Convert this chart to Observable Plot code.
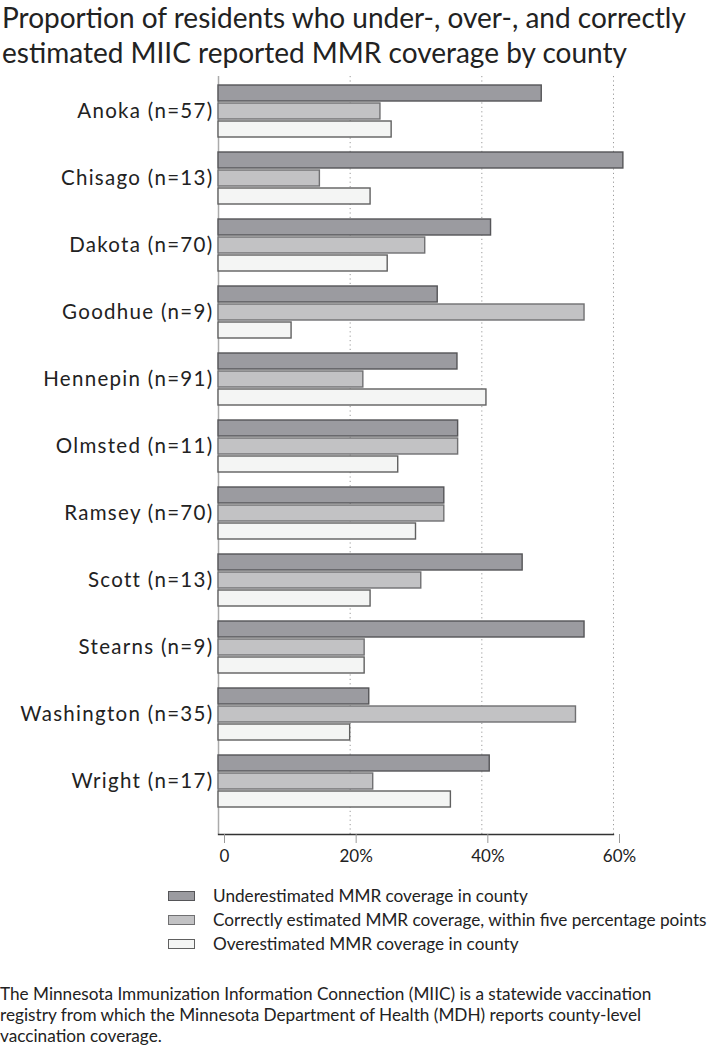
<!DOCTYPE html>
<html>
<head>
<meta charset="utf-8">
<script src="https://cdn.jsdelivr.net/npm/d3@7"></script>
<script src="https://cdn.jsdelivr.net/npm/@observablehq/plot@0.6"></script>
<style>
  html, body { margin: 0; padding: 0; background: #fff; }
  body { width: 709px; height: 1050px; position: relative; font-family: Lato, "Open Sans", sans-serif; color: #222; overflow: hidden; }
  #title { position: absolute; left: 2px; top: 0; font-size: 28px; line-height: 35px; white-space: nowrap; }
  #chart { position: absolute; left: 0; top: 70px; }
  #legend { position: absolute; left: 0; top: 884px; font-size: 17.2px; }
  .li { position: absolute; white-space: nowrap; height: 24px; line-height: 24px; }
  .sw { position: absolute; left: 168px; top: 7px; width: 25px; height: 8px; border: 1px solid #777; }
  .lt { position: absolute; left: 213px; top: 0; }
  #caption { position: absolute; left: 0; top: 983px; font-size: 17.2px; line-height: 21px; white-space: nowrap; }
  #chart svg g[aria-label="y-axis tick label"] text { letter-spacing: 1.3px; }
</style>
</head>
<body>
<div id="title">Proportion of residents who under-, over-, and correctly<br>estimated MIIC reported MMR coverage by county</div>
<div id="chart"></div>
<div id="legend"></div>
<div id="caption">The Minnesota Immunization Information Connection (MIIC) is a statewide vaccination<br>registry from which the Minnesota Department of Health (MDH) reports county-level<br>vaccination coverage.</div>
<script>
const counties = ["Anoka (n=57)", "Chisago (n=13)", "Dakota (n=70)", "Goodhue (n=9)", "Hennepin (n=91)", "Olmsted (n=11)", "Ramsey (n=70)", "Scott (n=13)", "Stearns (n=9)", "Washington (n=35)", "Wright (n=17)"];
const underVals   = [49.1, 61.5, 41.4, 33.3, 36.3, 36.4, 34.3, 46.2, 55.6, 22.9, 41.2];
const correctVals = [24.6, 15.4, 31.4, 55.6, 22.0, 36.4, 34.3, 30.8, 22.2, 54.3, 23.5];
const overVals    = [26.3, 23.1, 25.7, 11.1, 40.7, 27.3, 30.0, 23.1, 22.2, 20.0, 35.3];
const seriesNames = ["Underestimated MMR coverage in county", "Correctly estimated MMR coverage, within five percentage points", "Overestimated MMR coverage in county"];
const seriesFill = ["#9b9ba0", "#c2c2c4", "#f4f5f4"];
const seriesStroke = ["#555558", "#707072", "#606060"];
const xTicks = [0, 20, 40, 60];

const seriesVals = [underVals, correctVals, overVals];
const rows = [];
seriesNames.forEach((s, si) => counties.forEach((c, ci) => rows.push({county: c, series: s, value: seriesVals[si][ci]})));

// sub-bar insets within each county band (top, bottom)
const insets = [[0, 36], [18, 18], [36, 0]];

const marks = [
  Plot.gridX([20, 40, 60], {stroke: "#9a9a9a", strokeOpacity: 1, strokeDasharray: "1.2,3.2"}),
  Plot.ruleX([0], {stroke: "#ababab", strokeWidth: 1.5})
];
seriesNames.forEach((s, si) => {
  marks.push(Plot.barX(rows.filter(r => r.series === s), {
    y: "county", x: "value", fill: "series", stroke: seriesStroke[si], strokeWidth: 1.4,
    insetTop: insets[si][0], insetBottom: insets[si][1]
  }));
});
marks.push(Plot.frame({anchor: "bottom", stroke: "#333", strokeWidth: 1.3}));
marks.push(Plot.axisX(xTicks, {tickSize: 9, tickPadding: 6, stroke: "#999", fill: "#222", fontSize: 17, dx: 6,
  tickFormat: d => d === 0 ? "0" : d + "%"}));
marks.push(Plot.axisY({tickSize: 0, tickPadding: 5, fontSize: 20.5, fill: "#222"}));

const chart = Plot.plot({
  width: 709,
  height: 810,
  marginTop: 6,
  marginBottom: 46,
  marginLeft: 218,
  marginRight: 96,
  style: {fontFamily: "Lato, 'Open Sans', sans-serif", background: "transparent", color: "#222"},
  x: {domain: [0, 60], label: null},
  y: {domain: counties, paddingInner: 0.219, paddingOuter: 0.2495, align: 0.239, label: null},
  color: {domain: seriesNames, range: seriesFill},
  marks
});
document.getElementById("chart").appendChild(chart);
// letter spacing for county labels (fallback if aria-label differs)
chart.querySelectorAll("g[aria-label^='y-axis'] text").forEach(t => t.setAttribute("letter-spacing", "1.3"));

const legend = document.getElementById("legend");
seriesNames.forEach((s, i) => {
  const li = document.createElement("div");
  li.className = "li";
  li.style.top = (i * 24) + "px";
  li.style.left = "0px";
  const sw = document.createElement("div");
  sw.className = "sw";
  sw.style.background = seriesFill[i];
  sw.style.borderColor = seriesStroke[i];
  const lt = document.createElement("div");
  lt.className = "lt";
  lt.textContent = s;
  li.appendChild(sw); li.appendChild(lt);
  legend.appendChild(li);
});
</script>
</body>
</html>
